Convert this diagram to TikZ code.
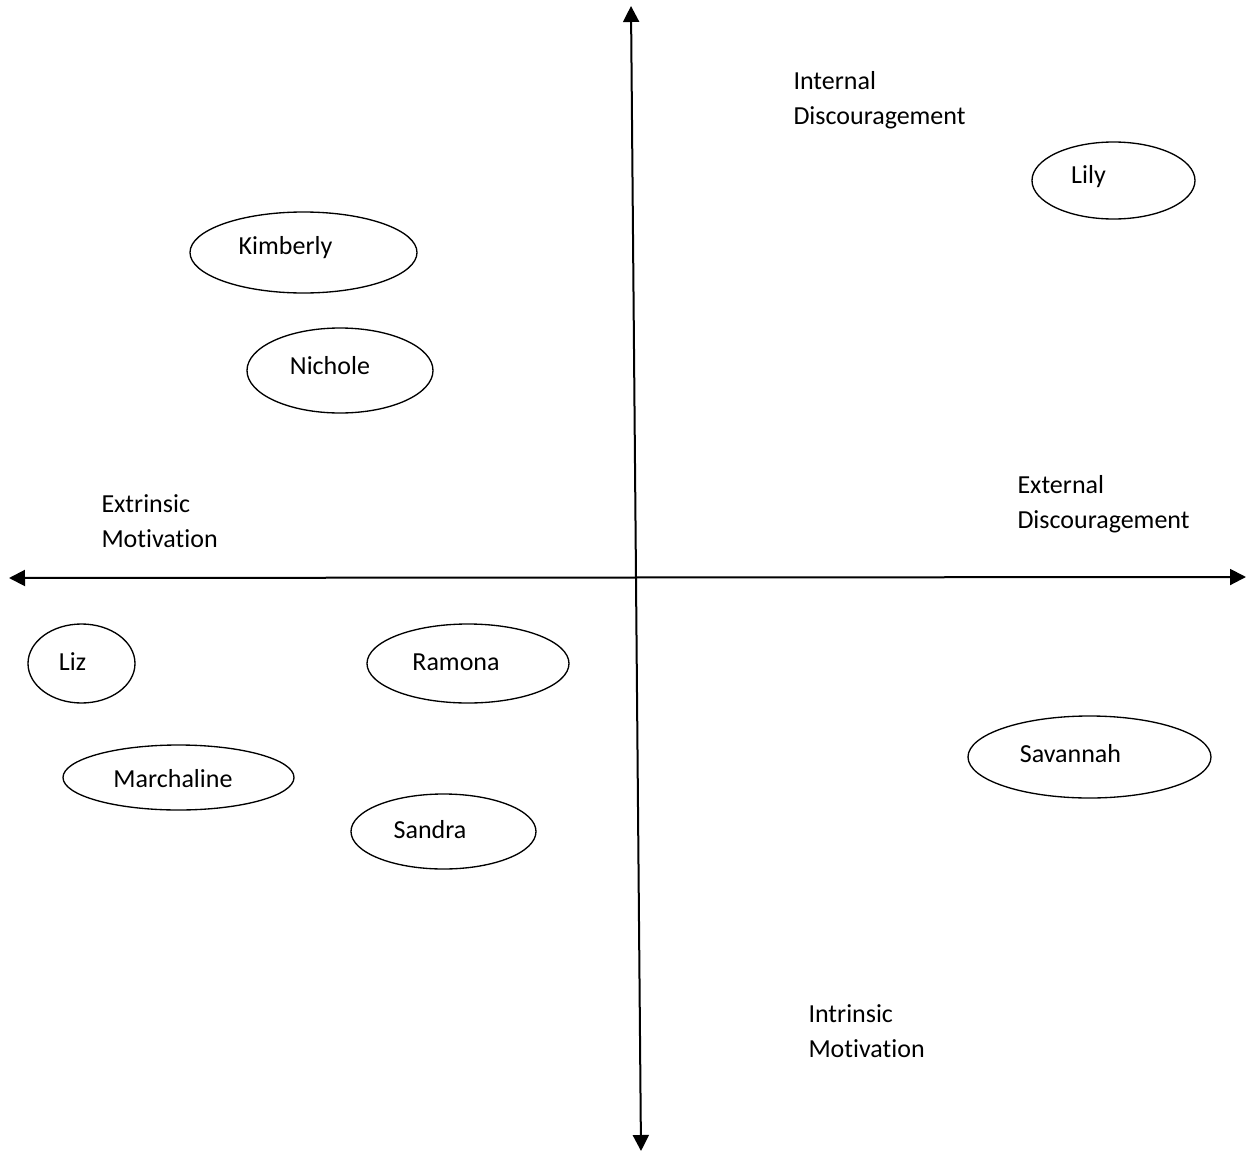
\documentclass[tikz,border=0pt]{standalone}
\usepackage{fontspec}
\setmainfont[Ligatures=NoCommon]{Carlito}
\usetikzlibrary{arrows.meta,shapes.geometric}

\tikzset{every picture/.style={line width=0.75pt}}
\tikzset{
  person/.style={draw, ellipse, line width=1pt, inner sep=0pt},
  axislabel/.style={anchor=west, align=left, inner sep=0pt, font=\fontsize{19.5}{26}\selectfont},
  personname/.style={inner sep=0pt, font=\fontsize{19.5}{24}\selectfont},
  axis/.style={line width=1.5pt, {Triangle[length=12pt,width=12pt]}-{Triangle[length=12pt,width=12pt]}}
}

\begin{document}
\begin{tikzpicture}[x=0.75pt,y=0.75pt,yscale=-1,xscale=1]
\useasboundingbox (0,0) rectangle (1247,1153);

% Axes
\coordinate (ytop) at (631,6);
\coordinate (ybottom) at (641,1151);
\coordinate (xleft) at (9,578);
\coordinate (xright) at (1246,577);
\draw [axis] (ybottom) -- (ytop);
\draw [axis] (xleft) -- (xright);

% Axis labels
\node [axislabel] (internal) at (793,100) {Internal\\Discouragement};
\node [axislabel] (external) at (1017,504) {External\\Discouragement};
\node [axislabel] (extrinsic) at (101,521) {Extrinsic\\Motivation};
\node [axislabel] (intrinsic) at (808,1031) {Intrinsic\\Motivation};

% Ellipses
\node [person, minimum width=170.25pt, minimum height=60.75pt] (kimberly) at (303.5,252.5) {};
\node [person, minimum width=139.5pt, minimum height=63.75pt] (nichole) at (340,370.5) {};
\node [person, minimum width=122.25pt, minimum height=57.75pt] (lily) at (1113.5,180.5) {};
\node [person, minimum width=80.25pt, minimum height=59.25pt] (liz) at (81.5,663.5) {};
\node [person, minimum width=151.5pt, minimum height=59.25pt] (ramona) at (468,663.5) {};
\node [person, minimum width=173.25pt, minimum height=48.75pt] (marchaline) at (178.5,777.5) {};
\node [person, minimum width=138.75pt, minimum height=56.25pt] (sandra) at (443.5,831.5) {};
\node [person, minimum width=182.25pt, minimum height=61.5pt] (savannah) at (1089.5,757) {};

% Names
\node [personname] (kimberlytext) at (285.5,248) {Kimberly};
\node [personname] (nicholetext) at (330,366) {Nichole};
\node [personname] (lilytext) at (1088.5,177) {Lily};
\node [personname] (liztext) at (72.5,662) {Liz};
\node [personname] (ramonatext) at (456,662) {Ramona};
\node [personname] (marchalinetext) at (173,779) {Marchaline};
\node [personname] (sandratext) at (430,830) {Sandra};
\node [personname] (savannahtext) at (1070.5,754) {Savannah};

\end{tikzpicture}
\end{document}
